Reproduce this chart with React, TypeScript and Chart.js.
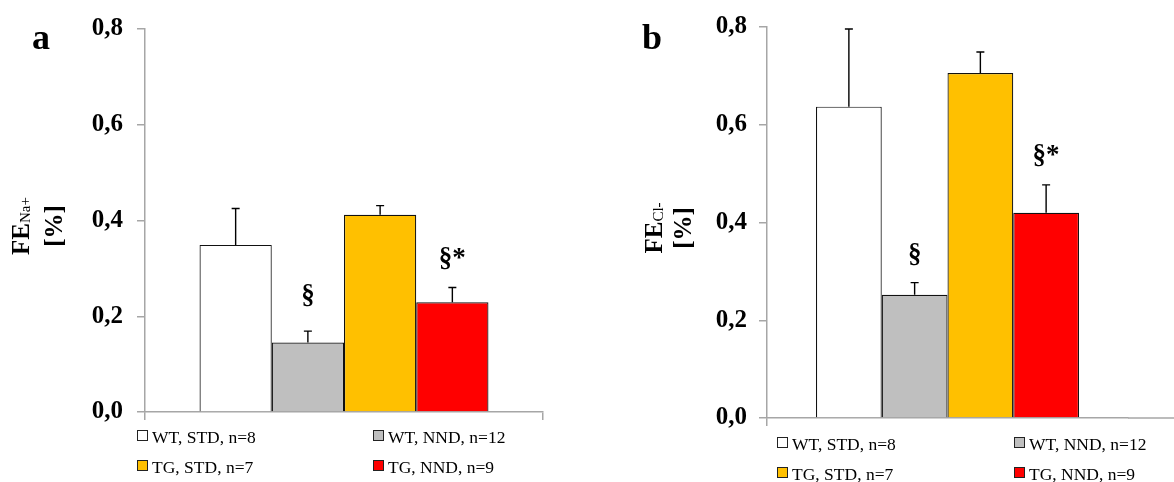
import React, { useEffect, useRef } from 'react';
import { Chart, registerables } from 'chart.js';

Chart.register(...registerables);

// ---- data ----
const groups = ['WT, STD, n=8', 'WT, NND, n=12', 'TG, STD, n=7', 'TG, NND, n=9'];
const groupColors = ['#ffffff', '#bfbfbf', '#ffc000', '#ff0000'];
const yTickValues = [0, 0.2, 0.4, 0.6, 0.8];

const naMean = [0.349, 0.145, 0.412, 0.229];
const naSem = [0.076, 0.024, 0.019, 0.031];
const naMarks = ['', '§', '', '§*'];
const naMarkLevel = [null, 0.243, null, 0.32];

const clMean = [0.637, 0.252, 0.706, 0.42];
const clSem = [0.159, 0.025, 0.043, 0.057];
const clMarks = ['', '§', '', '§*'];
const clMarkLevel = [null, 0.334, null, 0.536];

const W = 587;
const H = 482;
const GRAY = '#a6a6a6';
const SERIF = '"Liberation Serif", "Times New Roman", serif';

type PanelCfg = {
  letter: string;
  sub: string;
  mean: number[];
  sem: number[];
  marks: string[];
  markLevel: (number | null)[];
  axisLeft: number;
  plotRight: number;
  plotTop: number;
  plotBottom: number;
  catPct: number;
  tickPad: number;
  letterX: number;
  letterY: number;
  titleY: number;
  title1Base: number;
  title2Base: number;
  legendBoxX: number[];
  legendRowBase: number[];
  extendAxis: boolean;
};

const panelA: PanelCfg = {
  letter: 'a',
  sub: 'Na+',
  mean: naMean,
  sem: naSem,
  marks: naMarks,
  markLevel: naMarkLevel,
  axisLeft: 145,
  plotRight: 543,
  plotTop: 24,
  plotBottom: 412,
  catPct: 0.726,
  tickPad: 14,
  letterX: 32,
  letterY: 49,
  titleY: 226,
  title1Base: 29,
  title2Base: 62,
  legendBoxX: [137, 373],
  legendRowBase: [443, 473],
  extendAxis: false,
};

const panelB: PanelCfg = {
  letter: 'b',
  sub: 'Cl-',
  mean: clMean,
  sem: clSem,
  marks: clMarks,
  markLevel: clMarkLevel,
  axisLeft: 180,
  plotRight: 541,
  plotTop: 24,
  plotBottom: 418,
  catPct: 0.7285,
  tickPad: 12,
  letterX: 55,
  letterY: 49,
  titleY: 228,
  title1Base: 75,
  title2Base: 104,
  legendBoxX: [190, 427],
  legendRowBase: [450, 480],
  extendAxis: true,
};

function decorPlugin(cfg: PanelCfg) {
  return {
    id: 'decor' + cfg.letter,
    afterDatasetsDraw(chart: any) {
      const ctx = chart.ctx as CanvasRenderingContext2D;
      const y = chart.scales.y;
      ctx.save();
      chart.data.datasets.forEach((ds: any, i: number) => {
        const el = chart.getDatasetMeta(i).data[0];
        const top = y.getPixelForValue(ds.data[0] + cfg.sem[i]);
        ctx.strokeStyle = '#000';
        ctx.lineWidth = 1.4;
        ctx.beginPath();
        ctx.moveTo(el.x, el.y);
        ctx.lineTo(el.x, top);
        ctx.moveTo(el.x - 4, top);
        ctx.lineTo(el.x + 4, top);
        ctx.stroke();
        const mark = cfg.marks[i];
        const lvl = cfg.markLevel[i];
        if (mark && lvl !== null) {
          ctx.fillStyle = '#000';
          ctx.font = 'bold 27px ' + SERIF;
          ctx.textAlign = 'center';
          ctx.textBaseline = 'middle';
          ctx.fillText(mark, el.x, y.getPixelForValue(lvl));
        }
      });
      ctx.restore();
    },
    afterDraw(chart: any) {
      const ctx = chart.ctx as CanvasRenderingContext2D;
      const area = chart.chartArea;
      ctx.save();
      // extended x axis line
      if (cfg.extendAxis) {
        ctx.strokeStyle = GRAY;
        ctx.lineWidth = 1.5;
        ctx.beginPath();
        ctx.moveTo(area.right, area.bottom);
        ctx.lineTo(W, area.bottom);
        ctx.stroke();
      }
      // panel letter
      ctx.fillStyle = '#000';
      ctx.textAlign = 'left';
      ctx.textBaseline = 'alphabetic';
      ctx.font = 'bold 36px ' + SERIF;
      ctx.fillText(cfg.letter, cfg.letterX, cfg.letterY);
      // rotated y title
      ctx.save();
      ctx.translate(cfg.title1Base, cfg.titleY);
      ctx.rotate(-Math.PI / 2);
      ctx.font = 'bold 25px ' + SERIF;
      const w1 = ctx.measureText('FE').width;
      ctx.font = '15px ' + SERIF;
      const w2 = ctx.measureText(cfg.sub).width;
      const start = -(w1 + w2) / 2;
      ctx.font = 'bold 25px ' + SERIF;
      ctx.fillText('FE', start, 0);
      ctx.font = '15px ' + SERIF;
      ctx.fillText(cfg.sub, start + w1, 1);
      ctx.restore();
      ctx.save();
      ctx.translate(cfg.title2Base, cfg.titleY);
      ctx.rotate(-Math.PI / 2);
      ctx.font = 'bold 25px ' + SERIF;
      ctx.textAlign = 'center';
      ctx.fillText('[%]', 0, 0);
      ctx.restore();
      // legend (2 x 2)
      ctx.font = '17.5px ' + SERIF;
      ctx.textAlign = 'left';
      ctx.textBaseline = 'alphabetic';
      groups.forEach((label, i) => {
        const col = i % 2;
        const row = Math.floor(i / 2);
        const bx = cfg.legendBoxX[col];
        const base = cfg.legendRowBase[row];
        ctx.fillStyle = groupColors[i];
        ctx.fillRect(bx + 0.5, base - 12.5, 10, 10);
        ctx.strokeStyle = '#222';
        ctx.lineWidth = 1;
        ctx.strokeRect(bx + 0.5, base - 12.5, 10, 10);
        ctx.fillStyle = '#000';
        ctx.fillText(label, bx + 15, base);
      });
      ctx.restore();
    },
  };
}

function Panel({ cfg, left }: { cfg: PanelCfg; left: number }) {
  const ref = useRef<HTMLCanvasElement | null>(null);
  useEffect(() => {
    if (!ref.current) return;
    const chart = new Chart(ref.current, {
      type: 'bar',
      data: {
        labels: [''],
        datasets: groups.map((g, i) => ({
          label: g,
          data: [cfg.mean[i]],
          backgroundColor: groupColors[i],
          borderColor: '#111111',
          borderWidth: 1.2,
          categoryPercentage: cfg.catPct,
          barPercentage: 1,
        })),
      },
      options: {
        responsive: false,
        animation: false,
        devicePixelRatio: 1,
        layout: { padding: { left: 0, right: W - cfg.plotRight, top: cfg.plotTop, bottom: 0 } },
        plugins: {
          legend: { display: false },
          tooltip: { enabled: false },
          title: { display: false },
        },
        scales: {
          x: {
            type: 'category',
            offset: true,
            grid: {
              display: true,
              drawOnChartArea: false,
              drawTicks: true,
              tickLength: 8,
              lineWidth: 1.5,
              color: cfg.extendAxis
                ? (c: any) => (c.index === 0 ? GRAY : 'rgba(0,0,0,0)')
                : GRAY,
            },
            border: { display: true, color: GRAY, width: 1.5 },
            ticks: { display: false },
            afterFit: (s: any) => {
              s.height = H - cfg.plotBottom;
            },
          },
          y: {
            min: 0,
            max: 0.8,
            afterFit: (s: any) => {
              s.width = cfg.axisLeft;
            },
            afterBuildTicks: (s: any) => {
              s.ticks = yTickValues.map((v) => ({ value: v }));
            },
            ticks: {
              callback: (v: any) => Number(v).toFixed(1).replace('.', ','),
              font: { family: SERIF, size: 25, weight: 'bold' },
              color: '#000',
              padding: cfg.tickPad,
            },
            grid: {
              drawOnChartArea: false,
              drawTicks: true,
              tickLength: 8,
              color: GRAY,
              lineWidth: 1.5,
            },
            border: { display: true, color: GRAY, width: 1.5 },
          },
        },
      } as any,
      plugins: [decorPlugin(cfg)],
    });
    return () => chart.destroy();
  }, [cfg]);
  return (
    <canvas
      ref={ref}
      width={W}
      height={H}
      style={{ position: 'absolute', left, top: 0, width: W, height: H }}
    />
  );
}

export default function App() {
  return (
    <div
      style={{
        position: 'absolute',
        left: 0,
        top: 0,
        width: 1174,
        height: 482,
        background: '#ffffff',
        overflow: 'hidden',
      }}
    >
      <Panel cfg={panelA} left={0} />
      <Panel cfg={panelB} left={587} />
    </div>
  );
}
